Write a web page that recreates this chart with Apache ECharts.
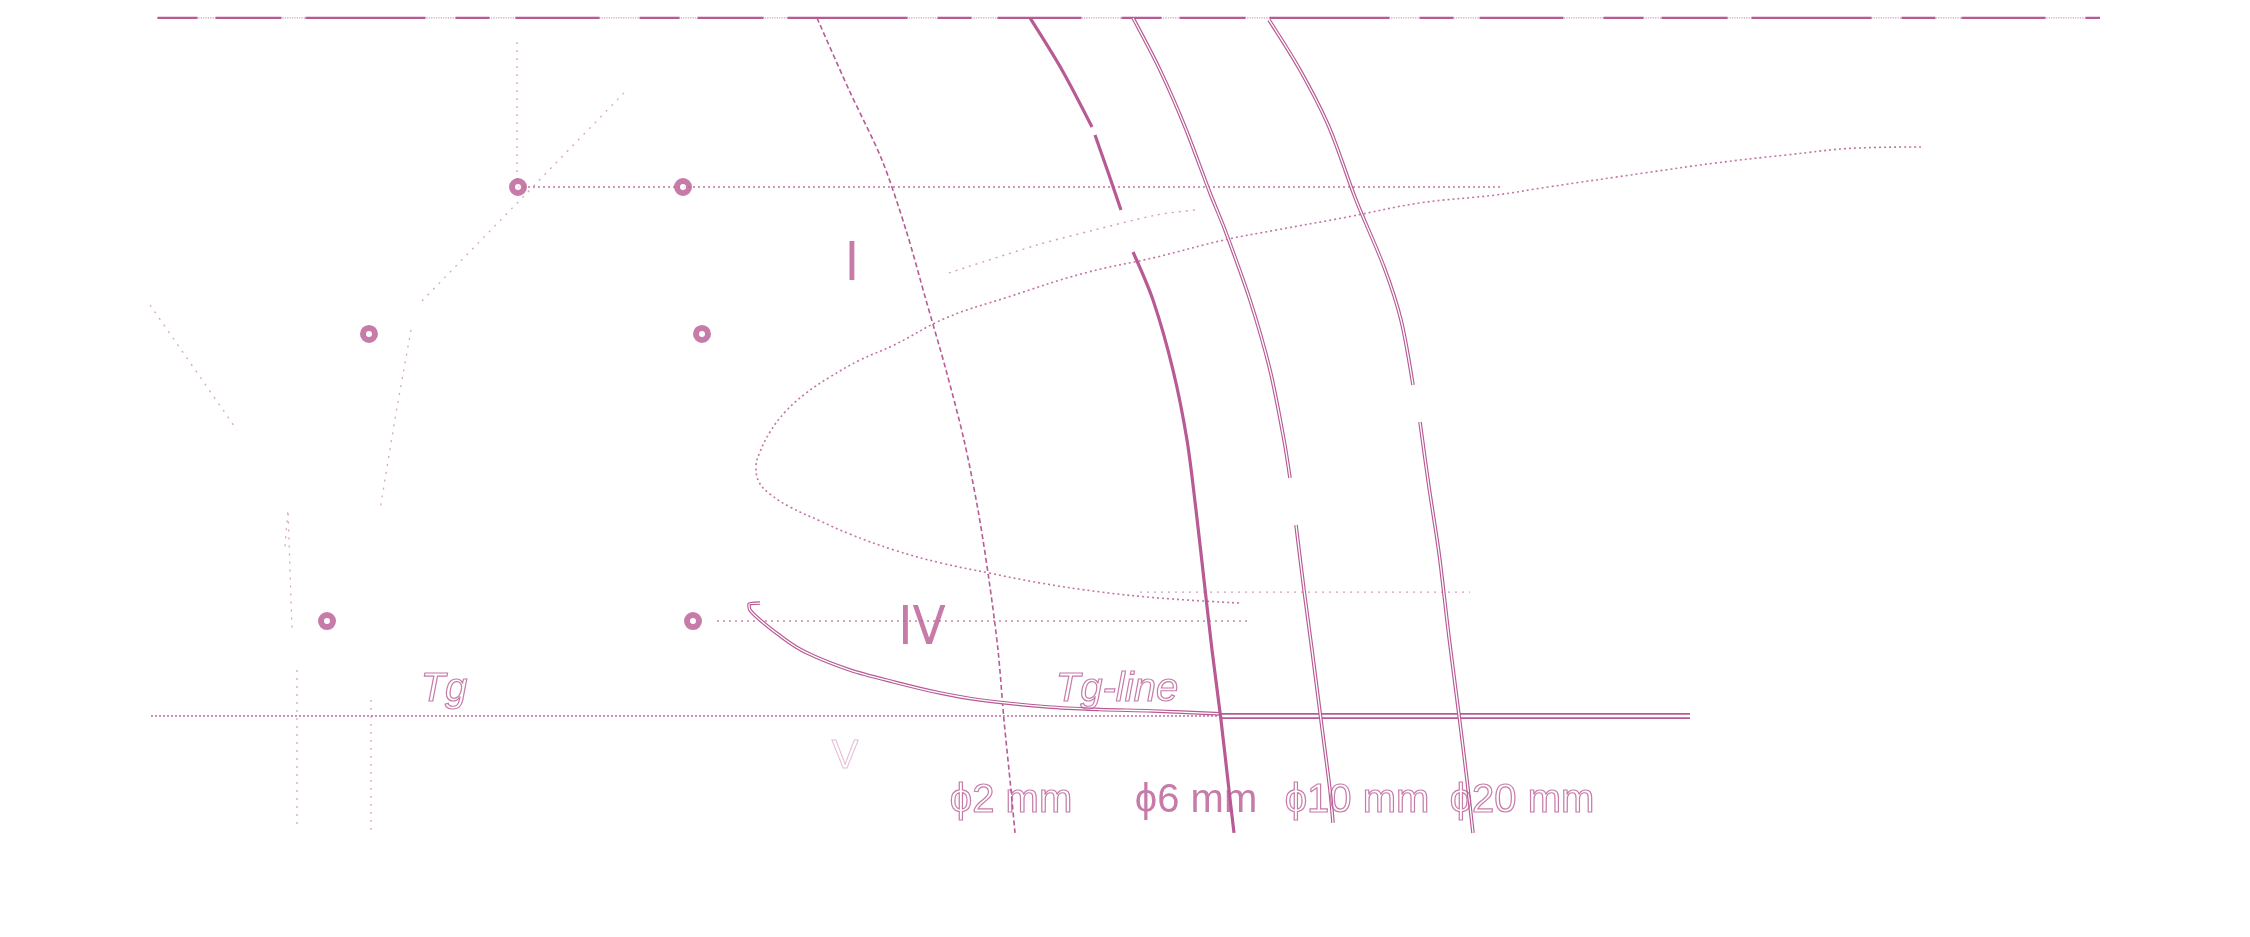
<!DOCTYPE html>
<html><head><meta charset="utf-8">
<script src="https://cdn.jsdelivr.net/npm/echarts@6/dist/echarts.min.js"></script>
<style>html,body{margin:0;padding:0;background:#fff}#c{width:2250px;height:937px}</style>
</head><body><div id="c"></div>
<script>
// ---- data: x = log10(time), T = temperature (K) ----
const T_top = 891.0;          // upper dashed level
const T_mid = 806.2;          // dotted level through top markers
const T_g = 540.9;            // Tg line
const topLineX = [-2.37, 5.40];
const midLineX = [-0.928, 3.00];
const tgDottedX = [-2.396, 1.884];
const tgSolidX = [1.884, 3.76];
const tgSolidT = [541.9, 539.8];
const ivLineX = [-0.132, 1.99];
const T_iv = 588.5;
const lowFaintX = [1.56, 2.88];
const T_lowFaint = 603.0;

const markerX = [-0.928, -0.268, -1.524, -0.192, -1.692, -0.228];
const markerT = [806.2, 806.2, 732.5, 732.5, 588.5, 588.5];

const cCurve = [[4.684,826.3],[4.436,825.8],[4.148,822.3],[3.860,818.2],[3.576,813.2],[3.192,806.2],[2.984,802.2],[2.680,798.2],[2.392,791.2],[2.104,784.6],[1.896,779.6],[1.628,771.1],[1.340,763.1],[1.032,751.0],[0.784,740.5],[0.576,726.9],[0.440,719.4],[0.320,710.9],[0.220,702.4],[0.140,693.3],[0.080,683.3],[0.040,673.3],[0.024,665.7],[0.036,658.2],[0.080,652.2],[0.160,645.7],[0.280,638.7],[0.400,632.1],[0.576,624.1],[0.764,617.6],[0.956,612.6],[1.160,607.6],[1.400,603.1],[1.640,600.0],[1.960,597.5]];
const bandLine = [[0.796,763.1],[1.148,777.1],[1.376,784.6],[1.628,792.2],[1.780,794.7]];

const tgCurve = [[0.040,597.5],[-0.004,597.0],[0.000,594.0],[0.132,580.0],[0.228,572.5],[0.400,563.9],[0.576,557.9],[0.760,552.4],[0.920,548.9],[1.192,545.4],[1.400,544.1],[1.608,543.4],[1.884,541.9]];

const phi2 = [[0.268,891.0],[0.396,854.9],[0.528,819.7],[0.624,784.6],[0.704,749.5],[0.784,714.4],[0.856,679.3],[0.912,644.2],[0.956,609.1],[0.992,574.0],[1.016,538.8],[1.044,503.7],[1.060,482.2]];
const phi6a = [[1.120,891.0],[1.248,864.9],[1.368,836.3]];
const phi6b = [[1.380,832.3],[1.432,813.7],[1.484,794.7]];
const phi6c = [[1.532,773.6],[1.612,749.5],[1.692,714.4],[1.748,679.3],[1.784,644.2],[1.816,609.1],[1.848,574.0],[1.884,538.8],[1.916,503.7],[1.936,482.2]];
const phi10a = [[1.532,891.0],[1.640,864.9],[1.740,836.3],[1.840,803.2],[1.900,784.6],[2.000,749.5],[2.080,714.4],[2.136,679.3],[2.160,660.2]];
const phi10b = [[2.184,636.7],[2.216,604.1],[2.248,574.0],[2.284,538.8],[2.320,503.7],[2.332,487.2]];
const phi20a = [[2.076,890.0],[2.200,864.9],[2.316,836.3],[2.424,799.7],[2.536,766.1],[2.604,739.5],[2.652,706.9]];
const phi20b = [[2.680,688.3],[2.716,655.7],[2.756,622.6],[2.796,580.5],[2.836,541.4],[2.868,508.8],[2.892,482.2]];

const faintGuides = [
  [[-0.932,878.9],[-0.932,806.2]],
  [[-0.504,853.4],[-1.316,748.5]],
  [[-1.356,734.5],[-1.420,690.0],[-1.480,644.2]],
  [[-1.860,626.0],[-1.848,644.2],[-1.832,584.0]],
  [[-1.812,563.9],[-1.812,486.2]],
  [[-2.400,747.0],[-2.052,684.3]],
  [[-1.516,548.9],[-1.516,481.2]]
];

const labelText = ['ϕ2 mm','ϕ6 mm','ϕ10 mm','ϕ20 mm','Tg','Tg-line','I','IV','V'];
const labelX   = [1.044, 1.784, 2.428, 3.088, -1.224, 1.468, 0.408, 0.688, 0.380];
const labelT   = [498.2, 498.2, 498.2, 498.2, 553.9, 554.2, 766.6, 584.0, 520.3];
const labelKind = ['outline','solid','outline','outline','outlineItalic','outlineItalic','roman','roman','faint'];

// ---- chart ----
const PINK = '#b85a94';
const chart = echarts.init(document.getElementById('c'), null, {renderer: 'canvas'});
function line(data, style, extra) {
  return Object.assign({
    type: 'line', data: data, symbol: 'none', smooth: 0.3, silent: true, animation: false,
    lineStyle: Object.assign({color: PINK, width: 1.5}, style)
  }, extra || {});
}
function hline(xs, t) { return [[xs[0], t], [xs[1], t]]; }
function doubleLine(data, w) {
  return [line(data, {width: w || 3.6}, {z: 3}), line(data, {width: 1.3, color: '#fff'}, {z: 4})];
}

const series = [];
series.push(line(hline(topLineX, T_top), {type: 'dotted', width: 1.2, opacity: 0.6}, {smooth: false}));
series.push(line(hline(topLineX, T_top), {type: [40,18,66,24,120,30,34,26,84,40], width: 2.2}, {smooth: false}));
series.push(line(hline(midLineX, T_mid), {type: [2,3], width: 1.6, opacity: 0.85}, {smooth: false}));
series.push(line(hline(tgDottedX, T_g), {type: [2,2], width: 1.6, opacity: 0.85}, {smooth: false}));
tgSolidT.forEach(t => series.push(line(hline(tgSolidX, t), {width: 1.6}, {smooth: false})));
series.push(line(hline(ivLineX, T_iv), {type: [2,4], width: 1.4, opacity: 0.75}, {smooth: false}));
series.push(line(hline(lowFaintX, T_lowFaint), {type: [2,5], width: 1.4, opacity: 0.6}, {smooth: false}));
series.push(line(cCurve, {type: [2,3], width: 1.6, opacity: 0.85}, {smooth: 0.4}));
series.push(line(bandLine, {type: [2,5], width: 1.4, opacity: 0.6}));
faintGuides.forEach(g => series.push(line(g, {type: [2,6], width: 1.3, opacity: 0.55}, {smooth: false})));
series.push(line(phi2, {type: [5,3], width: 1.6}));
[phi6a, phi6b, phi6c].forEach(d => series.push(line(d, {width: 3.2}, {z: 5})));
[phi10a, phi10b, phi20a, phi20b, tgCurve].forEach(d => doubleLine(d).forEach(s => series.push(s)));

series.push({
  type: 'scatter', silent: true, animation: false, z: 10,
  symbol: 'circle', symbolSize: 12,
  itemStyle: {color: '#fff', borderColor: PINK, borderWidth: 6},
  data: markerX.map((x, i) => [x, markerT[i]])
});

function labelStyle(kind) {
  const base = {show: true, position: 'inside', fontFamily: 'Liberation Sans, Arial, sans-serif', fontSize: 40};
  if (kind === 'solid') return Object.assign(base, {color: PINK});
  if (kind === 'outline') return Object.assign(base, {color: 'rgba(255,255,255,0)', textBorderColor: PINK, textBorderWidth: 1.2});
  if (kind === 'outlineItalic') return Object.assign(base, {color: 'rgba(255,255,255,0)', textBorderColor: PINK, textBorderWidth: 1.2, fontStyle: 'italic'});
  if (kind === 'faint') return Object.assign(base, {color: 'rgba(255,255,255,0)', textBorderColor: 'rgba(184,90,148,0.5)', textBorderWidth: 1});
  return Object.assign(base, {color: PINK, fontSize: 54, fontFamily: 'Liberation Sans Narrow, DejaVu Sans Condensed, Arial Narrow, sans-serif'});
}
series.push({
  type: 'scatter', silent: true, animation: false, z: 12,
  symbolSize: 0.1, itemStyle: {color: 'rgba(0,0,0,0)'},
  data: labelText.map((t, i) => ({
    value: [labelX[i], labelT[i]],
    label: Object.assign(labelStyle(labelKind[i]), {formatter: t})
  }))
});

chart.setOption({
  animation: false,
  backgroundColor: '#fff',
  grid: {left: 0, right: 0, top: 0, bottom: 0},
  xAxis: {type: 'value', min: -3, max: 6, show: false},
  yAxis: {type: 'value', min: 430, max: 900, show: false},
  series: series
});
</script></body></html>
